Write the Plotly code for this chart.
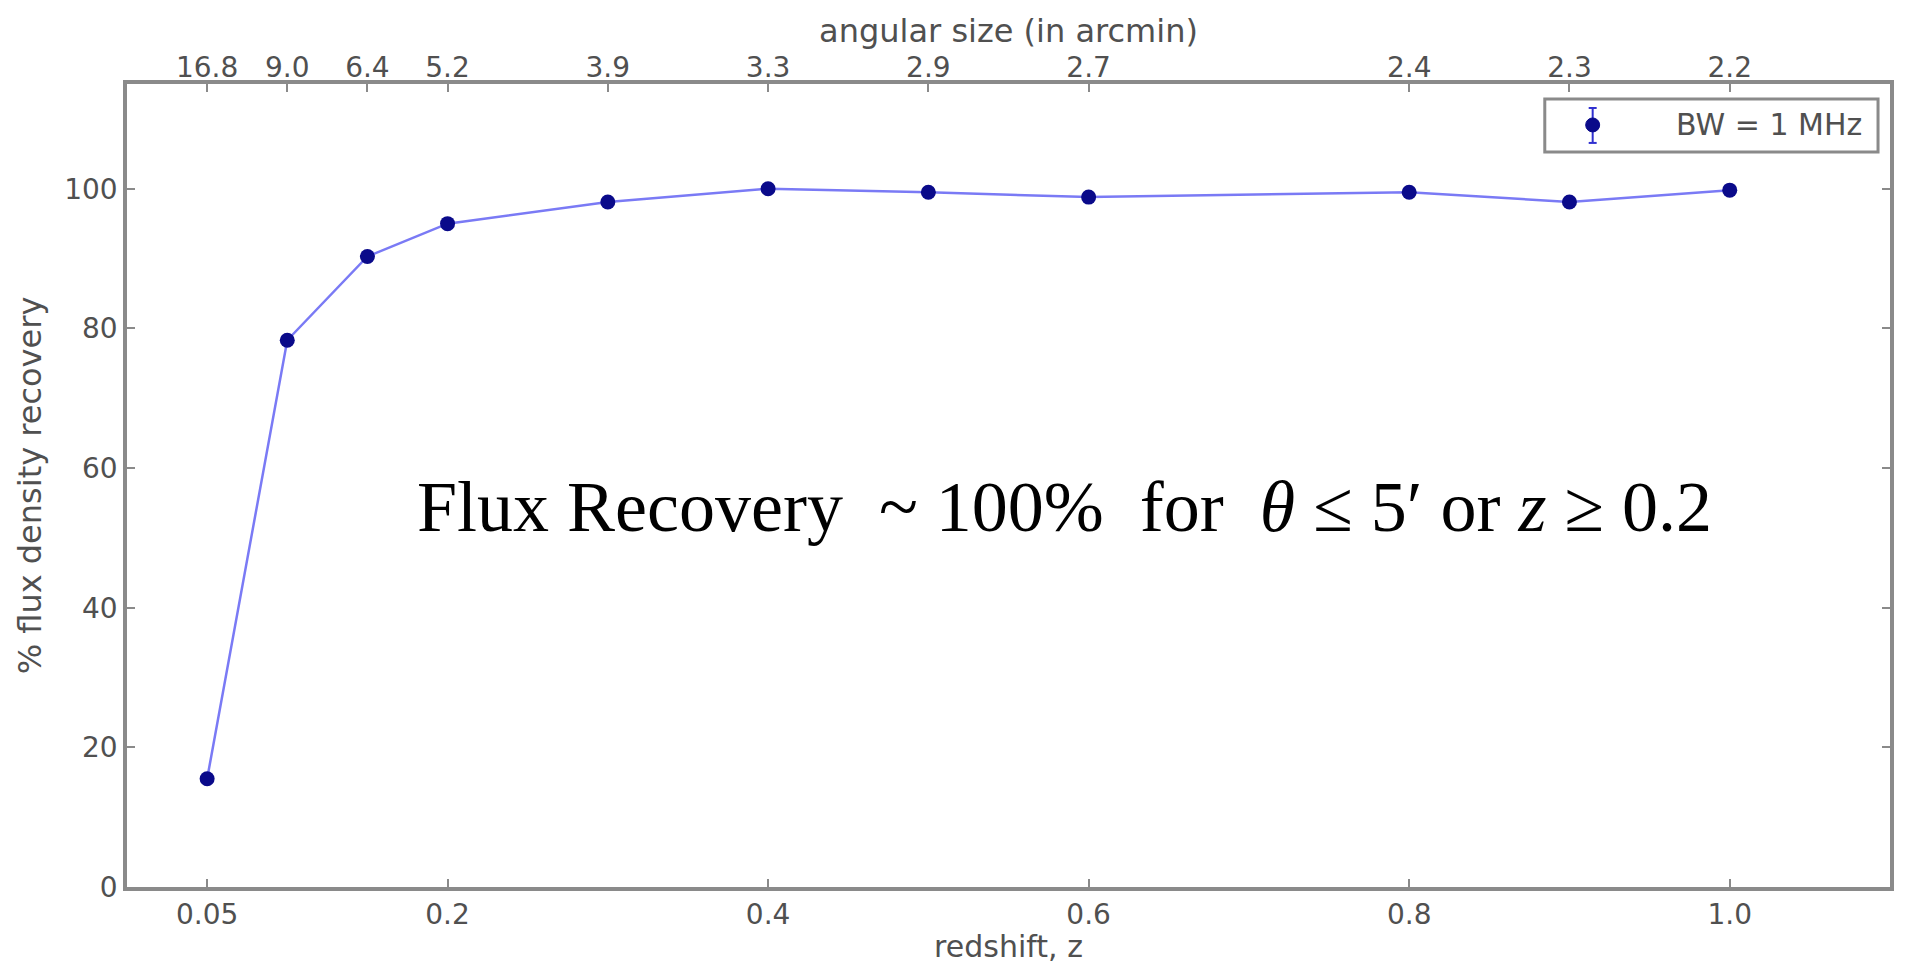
import plotly.graph_objects as go

# ---- data ----
redshift = [0.05, 0.1, 0.15, 0.2, 0.3, 0.4, 0.5, 0.6, 0.8, 0.9, 1.0]
flux_recovery = [15.5, 78.3, 90.3, 95.0, 98.1, 100.0, 99.5, 98.8, 99.5, 98.1, 99.8]
angular_size_labels = ["16.8", "9.0", "6.4", "5.2", "3.9", "3.3", "2.9", "2.7", "2.4", "2.3", "2.2"]
bottom_tickvals = [0.05, 0.2, 0.4, 0.6, 0.8, 1.0]
bottom_ticktext = ["0.05", "0.2", "0.4", "0.6", "0.8", "1.0"]
y_tickvals = [0, 20, 40, 60, 80, 100]
series_name = "BW = 1 MHz"

AX = "#8a8a8a"
TXT = "#505050"
FONT = "DejaVu Sans"

fig = go.Figure()
fig.add_trace(go.Scatter(
    x=redshift, y=flux_recovery, mode="lines",
    line=dict(color="#7a7af5", width=2.5), showlegend=False, hoverinfo="skip"))
fig.add_trace(go.Scatter(
    x=redshift, y=flux_recovery, mode="markers",
    marker=dict(color="#0a0a8a", size=15), showlegend=False, name=series_name))
# invisible trace to carry the top axis
fig.add_trace(go.Scatter(
    x=redshift, y=flux_recovery, xaxis="x2", mode="markers",
    marker=dict(opacity=0), showlegend=False, hoverinfo="skip"))

fig.update_layout(
    width=1906, height=964,
    margin=dict(l=127, r=12, t=84, b=76),
    paper_bgcolor="white", plot_bgcolor="white",
    font=dict(family=FONT, color=TXT, size=28),
    xaxis=dict(
        range=[0, 1.1], tickvals=bottom_tickvals, ticktext=bottom_ticktext,
        ticks="inside", ticklen=8, tickwidth=1.5, tickcolor=AX,
        showline=True, linecolor=AX, linewidth=3.5, showgrid=False, zeroline=False,
        title=dict(text="redshift, z", standoff=0, font=dict(size=30)),
        tickfont=dict(size=28),
    ),
    xaxis2=dict(
        overlaying="x", side="top", range=[0, 1.1],
        tickvals=redshift, ticktext=angular_size_labels,
        ticks="inside", ticklen=8, tickwidth=1.5, tickcolor=AX,
        ticklabelstandoff=-8,
        showline=True, linecolor=AX, linewidth=3.5, showgrid=False, zeroline=False,
        title=dict(text="angular size (in arcmin)", standoff=0, font=dict(size=32)),
        tickfont=dict(size=28),
    ),
    yaxis=dict(
        range=[0, 115], tickvals=y_tickvals,
        ticks="inside", ticklen=8, tickwidth=1.5, tickcolor=AX,
        showline=True, linecolor=AX, linewidth=3.5, mirror="ticks",
        showgrid=False, zeroline=False,
        title=dict(text="% flux density recovery", standoff=14, font=dict(size=32)),
        tickfont=dict(size=28),
    ),
)

# manual legend box
px0, px1, py0, py1 = 127, 1894, 84, 888
def xp(px):
    return (px - px0) / (px1 - px0)
def yp(py):
    return (py1 - py) / (py1 - py0)

fig.add_shape(type="rect", xref="paper", yref="paper",
              x0=xp(1548), x1=xp(1882), y0=yp(152), y1=yp(99),
              line=dict(color=AX, width=3), fillcolor="white")
fig.add_shape(type="line", xref="paper", yref="paper",
              x0=xp(1596), x1=xp(1596), y0=yp(143), y1=yp(108),
              line=dict(color="#3030d0", width=2))
for cy in (108, 143):
    fig.add_shape(type="line", xref="paper", yref="paper",
                  x0=xp(1592), x1=xp(1600), y0=yp(cy), y1=yp(cy),
                  line=dict(color="#3030d0", width=2))
fig.add_shape(type="circle", xref="paper", yref="paper",
              x0=xp(1589), x1=xp(1603), y0=yp(132), y1=yp(118),
              line=dict(color="#0a0a8a", width=1), fillcolor="#0a0a8a")
fig.add_annotation(xref="paper", yref="paper", x=xp(1868), y=yp(125),
                   xanchor="right", yanchor="middle", showarrow=False,
                   text=series_name, font=dict(family=FONT, size=30, color=TXT))

# big statement text
fig.add_annotation(xref="paper", yref="paper", x=xp(1067), y=yp(508),
                   xanchor="center", yanchor="middle", showarrow=False,
                   text="Flux Recovery  ~ 100%  for  <i>θ</i> ≤ 5′ or <i>z</i> ≥ 0.2",
                   font=dict(family="Liberation Serif", size=72, color="black"))

fig.write_html("out.html")
